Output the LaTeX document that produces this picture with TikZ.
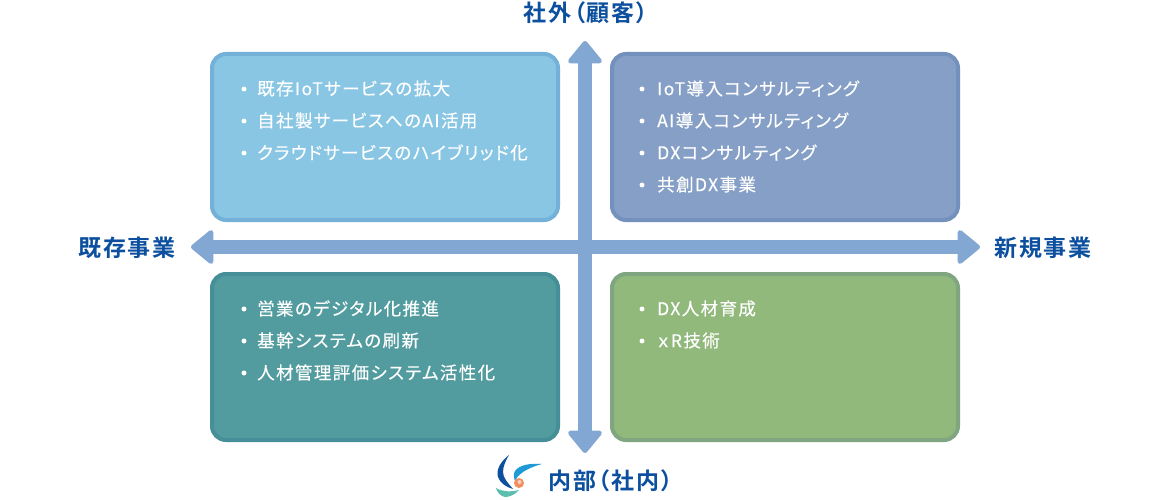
\documentclass[tikz,border=0pt]{standalone}
\usepackage{fontspec}
\usetikzlibrary{arrows.meta}
\newfontfamily\listfont[LetterSpace=8,RawFeature=+palt,FakeBold=0.25]{Noto Sans CJK JP}
\newfontfamily\headfont[LetterSpace=8,RawFeature=+palt]{Noto Sans CJK JP Bold}
\definecolor{headblue}{HTML}{0B4F9E}
\definecolor{axisblue}{HTML}{83A7D3}
\definecolor{fa}{HTML}{88C6E4}\definecolor{ba}{HTML}{73B1D9}
\definecolor{fb}{HTML}{869FC6}\definecolor{bb}{HTML}{7491BE}
\definecolor{fc}{HTML}{529C9F}\definecolor{bc}{HTML}{468E98}
\definecolor{fd}{HTML}{92B97C}\definecolor{bd}{HTML}{7FA681}
\definecolor{logodark}{HTML}{0B4F9E}
\definecolor{logolight}{HTML}{1E9BD7}
\definecolor{logoteal}{HTML}{5DBDAE}
\definecolor{logoball}{HTML}{F08F60}
\tikzset{
  x=1pt,y=-1pt,
  quad/.style n args={2}{draw=#2,fill=#1,line width=4pt,rounded corners=14pt,inner sep=0pt},
  item/.style={anchor=west,inner sep=0pt,text=white,font=\listfont\fontsize{17.5}{17.5}\selectfont},
  head/.style={inner sep=0pt,text=headblue,font=\headfont\fontsize{23}{23}\selectfont},
  axisline/.style={axisblue,line width=14pt,{Triangle[round,length=24pt,width=38pt,line width=5pt]}-{Triangle[round,length=24pt,width=38pt,line width=5pt]}},
  dotm/.style={circle,fill=white,inner sep=0pt,minimum size=5pt}
}
\newcommand{\boxA}[5]{\path[quad={#4}{#5}] (#1,#2) rectangle ++(346,166);}
\begin{document}
\begin{tikzpicture}
\useasboundingbox (0,0) rectangle (1170,500);
\fill[white] (0,0) rectangle (1170,500);
% boxes
\boxA{212}{54}{a}{fa}{ba}
\boxA{612}{54}{b}{fb}{bb}
\boxA{212}{274}{c}{fc}{bc}
\boxA{612}{274}{d}{fd}{bd}
% axis labels
\node[head] (ntop) at (586,13) {社外（顧客）};
\node[head] (nbot) at (610.5,481) {内部（社内）};
\node[head] (nlft) at (127,248) {既存事業};
\node[head] (nrgt) at (1043,248) {新規事業};
% axes
\coordinate (top) at (585,41);
\coordinate (bot) at (585,453);
\coordinate (lft) at (191,247);
\coordinate (rgt) at (980,247);
\draw[axisline] (lft) -- (rgt);
\draw[axisline] (top) -- (bot);
% list A
\node[dotm] (a1d) at (244,89) {}; \node[item] (a1) at (257,88.5) {既存IoTサービスの拡大};
\node[dotm] (a2d) at (244,121) {}; \node[item] (a2) at (257,120.5) {自社製サービスへのAI活用};
\node[dotm] (a3d) at (244,153) {}; \node[item] (a3) at (257,152.5) {クラウドサービスのハイブリッド化};
% list B
\node[dotm] (b1d) at (642,89) {}; \node[item] (b1) at (657,88.5) {IoT導入コンサルティング};
\node[dotm] (b2d) at (642,121) {}; \node[item] (b2) at (657,120.5) {AI導入コンサルティング};
\node[dotm] (b3d) at (642,153) {}; \node[item] (b3) at (657,152.5) {DXコンサルティング};
\node[dotm] (b4d) at (642,185) {}; \node[item] (b4) at (657,184.5) {共創DX事業};
% list C
\node[dotm] (c1d) at (244,309) {}; \node[item] (c1) at (257,308.5) {営業のデジタル化推進};
\node[dotm] (c2d) at (244,341) {}; \node[item] (c2) at (257,340.5) {基幹システムの刷新};
\node[dotm] (c3d) at (244,373) {}; \node[item] (c3) at (257,372.5) {人材管理評価システム活性化};
% list D
\node[dotm] (d1d) at (642,309) {}; \node[item] (d1) at (657,308.5) {DX人材育成};
\node[dotm] (d2d) at (642,341) {}; \node[item] (d2) at (657,340.5) {ｘR技術};
% logo
\fill[logoteal] (496,488) .. controls (503,492) and (511,492) .. (519,490) .. controls (515,495) and (509,497) .. (505,497) .. controls (500,496) and (497,492) .. (496,488) -- cycle;
\fill[logodark] (509,455) .. controls (500,462) and (496,470) .. (498,477) .. controls (500,483) and (506,487) .. (513,489) .. controls (508,483) and (503,478) .. (503,472) .. controls (503,466) and (506,460) .. (509,455) -- cycle;
\fill[logolight] (542,464) .. controls (530,463) and (519,465) .. (515,471) .. controls (513,474) and (514,478) .. (515,481) .. controls (518,474) and (527,468) .. (542,464) -- cycle;
\fill[logoball] (519,483) circle (5);
\fill[white,opacity=.6] (519.5,482) circle (2);
\end{tikzpicture}
\end{document}
